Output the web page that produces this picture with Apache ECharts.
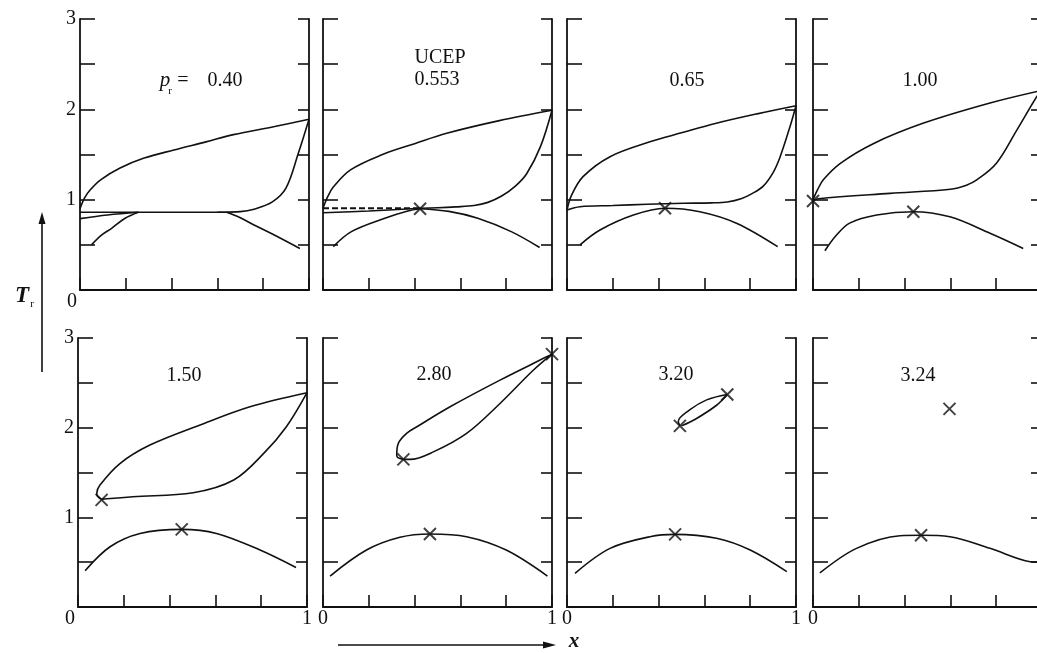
<!DOCTYPE html>
<html>
<head>
<meta charset="utf-8">
<script src="https://cdn.jsdelivr.net/npm/echarts@6/dist/echarts.min.js"></script>
<style>
  html, body { margin: 0; padding: 0; background: #fff; }
  #chart { width: 1037px; height: 653px; }
</style>
</head>
<body>
<div id="chart"></div>
<script>
// Reduced temperature T_r against mole fraction x at eight reduced pressures.
// Each curve is a list of [x, T_r] pairs.

// p_r = 0.40
const p040Vapor  = [[0,0.90],[0.02,1.02],[0.045,1.11],[0.09,1.22],[0.175,1.35],[0.28,1.46],[0.41,1.55],[0.55,1.64],[0.67,1.72],[0.85,1.81],[1,1.89]];
const p040Liquid = [[0,0.86],[0.2,0.86],[0.4,0.86],[0.6,0.862],[0.70,0.868],[0.76,0.895],[0.84,0.975],[0.90,1.13],[0.953,1.51],[1,1.89]];
const p040Tie    = [[0,0.79],[0.12,0.83],[0.255,0.86]];
const p040LLa    = [[0.05,0.50],[0.095,0.61],[0.138,0.683],[0.197,0.794],[0.255,0.86]];
const p040LLb    = [[0.64,0.86],[0.70,0.80],[0.76,0.72],[0.84,0.62],[0.96,0.46]];

// UCEP, p_r = 0.553
const p0553Vapor  = [[0,0.905],[0.02,1.03],[0.045,1.14],[0.12,1.33],[0.26,1.50],[0.40,1.62],[0.54,1.735],[0.77,1.875],[1,1.99]];
const p0553Liquid = [[0.424,0.905],[0.50,0.91],[0.58,0.92],[0.66,0.935],[0.72,0.97],[0.78,1.04],[0.84,1.15],[0.89,1.29],[0.95,1.59],[1,1.99]];
const p0553Tie    = [[0,0.856],[0.2,0.875],[0.424,0.905]];
const p0553Dash   = [[0,0.905],[0.424,0.905]];
const p0553LLa    = [[0.045,0.48],[0.124,0.646],[0.27,0.794],[0.37,0.875],[0.424,0.90]];
const p0553LLb    = [[0.424,0.90],[0.55,0.87],[0.676,0.794],[0.822,0.646],[0.946,0.47]];
const p0553Cross  = [[0.424,0.90]];

// p_r = 0.65
const p065Vapor  = [[0,0.886],[0.02,1.05],[0.07,1.255],[0.188,1.476],[0.362,1.64],[0.50,1.74],[0.652,1.846],[0.83,1.95],[1,2.04]];
const p065Liquid = [[0,0.886],[0.057,0.922],[0.2,0.935],[0.35,0.95],[0.508,0.96],[0.63,0.965],[0.70,0.975],[0.76,1.01],[0.81,1.07],[0.857,1.15],[0.90,1.30],[0.93,1.47],[0.974,1.81],[1,2.04]];
const p065LL     = [[0.057,0.50],[0.144,0.664],[0.29,0.83],[0.428,0.905],[0.58,0.867],[0.74,0.74],[0.92,0.48]];
const p065Cross  = [[0.428,0.905]];

// p_r = 1.00
const p100Vapor  = [[0,1.0],[0.02,1.11],[0.045,1.22],[0.118,1.40],[0.263,1.62],[0.48,1.845],[0.773,2.07],[1,2.21]];
const p100Liquid = [[0,0.985],[0.023,1.01],[0.336,1.07],[0.60,1.115],[0.67,1.16],[0.715,1.218],[0.80,1.40],[0.89,1.77],[0.977,2.14],[1,2.21]];
const p100LL     = [[0.052,0.435],[0.10,0.60],[0.16,0.74],[0.278,0.83],[0.438,0.867],[0.598,0.81],[0.773,0.628],[0.918,0.46]];
const p100Cross  = [[0,0.985],[0.438,0.867]];

// p_r = 1.50
const p150Vapor  = [[0.103,1.20],[0.085,1.235],[0.082,1.268],[0.096,1.36],[0.183,1.60],[0.314,1.806],[0.533,2.03],[0.751,2.233],[1,2.39]];
const p150Liquid = [[1,2.39],[0.91,2.01],[0.81,1.71],[0.68,1.416],[0.503,1.274],[0.24,1.23],[0.126,1.207],[0.103,1.20]];
const p150LL     = [[0.031,0.405],[0.14,0.672],[0.271,0.82],[0.453,0.866],[0.605,0.82],[0.795,0.635],[0.952,0.44]];
const p150Cross  = [[0.103,1.195],[0.453,0.866]];

// p_r = 2.80
const p280Upper = [[0.351,1.646],[0.327,1.665],[0.322,1.695],[0.329,1.825],[0.365,1.936],[0.41,2.01],[0.555,2.233],[0.773,2.53],[0.977,2.79],[1,2.82]];
const p280Lower = [[1,2.82],[0.918,2.64],[0.773,2.27],[0.627,1.936],[0.482,1.73],[0.38,1.646],[0.351,1.646]];
const p280LL    = [[0.031,0.345],[0.19,0.635],[0.336,0.777],[0.467,0.814],[0.627,0.784],[0.80,0.635],[0.98,0.345]];
const p280Cross = [[1,2.82],[0.351,1.646],[0.467,0.814]];

// p_r = 3.20
const p320Upper = [[0.493,2.02],[0.486,2.07],[0.537,2.20],[0.61,2.31],[0.70,2.37]];
const p320Lower = [[0.70,2.37],[0.653,2.25],[0.564,2.10],[0.50,2.02]];
const p320LL    = [[0.035,0.376],[0.188,0.654],[0.362,0.784],[0.472,0.81],[0.653,0.766],[0.80,0.635],[0.96,0.394]];
const p320Cross = [[0.70,2.37],[0.493,2.02],[0.472,0.81]];

// p_r = 3.24
const p324LL    = [[0.03,0.38],[0.19,0.654],[0.38,0.795],[0.472,0.80],[0.598,0.784],[0.773,0.654],[0.948,0.505],[0.98,0.50]];
const p324Cross = [[0.596,2.21],[0.472,0.80]];

// panel captions (pressure values)
const captions = ['0.40', '0.553', '0.65', '1.00', '1.50', '2.80', '3.20', '3.24'];
const yTickLabels = [1, 2, 3];
const xTickLabels = [0, 1];

const INK = '#111';
const SERIF = '"Liberation Serif", "Times New Roman", serif';

const panels = [
  { left: 80,  top: 19,  h: 271, yLab: true,  xLab: 'origin', lines: [p040Vapor, p040Liquid, p040Tie, p040LLa, p040LLb], dashed: [], cross: [] },
  { left: 323, top: 19,  h: 271, lines: [p0553Vapor, p0553Liquid, p0553Tie, p0553LLa, p0553LLb], dashed: [p0553Dash], cross: p0553Cross },
  { left: 567, top: 19,  h: 271, lines: [p065Vapor, p065Liquid, p065LL], dashed: [], cross: p065Cross },
  { left: 813, top: 19,  h: 271, lines: [p100Vapor, p100Liquid, p100LL], dashed: [], cross: p100Cross },
  { left: 78,  top: 338, h: 269, yLab: true, xLab: 'both-shift', lines: [p150Vapor, p150Liquid, p150LL], dashed: [], cross: p150Cross },
  { left: 323, top: 338, h: 269, xLab: 'both', lines: [p280Upper, p280Lower, p280LL], dashed: [], cross: p280Cross },
  { left: 567, top: 338, h: 269, xLab: 'both', lines: [p320Upper, p320Lower, p320LL], dashed: [], cross: p320Cross },
  { left: 813, top: 338, h: 269, xLab: 'both', lines: [p324LL], dashed: [], cross: p324Cross }
];

const grid = [], xAxis = [], yAxis = [], series = [];

const axisLine = { show: true, onZero: false, lineStyle: { color: INK, width: 1.8 } };
const tickStyle = { color: INK, width: 1.6 };

panels.forEach((p, i) => {
  grid.push({ left: p.left, top: p.top, width: 229, height: p.h, containLabel: false, outerBoundsMode: 'none' });

  xAxis.push({
    gridIndex: i, type: 'value', min: 0, max: 1, interval: 0.2,
    axisLine: axisLine,
    axisTick: { show: true, inside: true, length: 12, lineStyle: tickStyle },
    splitLine: { show: false },
    axisLabel: {
      show: !!p.xLab, margin: 2, color: INK, fontFamily: SERIF, fontSize: 20,
      showMinLabel: true, showMaxLabel: true, hideOverlap: false,
      formatter: (v) => {
        const isMin = Math.abs(v - xTickLabels[0]) < 1e-9;
        const isMax = Math.abs(v - xTickLabels[1]) < 1e-9;
        if (p.xLab === 'origin') return isMin ? '{o|' + xTickLabels[0] + '}' : '';
        if (p.xLab === 'both-shift') return isMin ? '{o|' + xTickLabels[0] + '}' : (isMax ? String(xTickLabels[1]) : '');
        return isMin ? String(xTickLabels[0]) : (isMax ? String(xTickLabels[1]) : '');
      },
      rich: { o: { fontFamily: SERIF, fontSize: 20, color: INK, padding: [0, 16, 0, 0] } }
    }
  });

  yAxis.push({
    gridIndex: i, type: 'value', min: 0, max: 3, interval: 0.5, position: 'left',
    axisLine: axisLine,
    axisTick: { show: true, inside: true, length: 15, lineStyle: tickStyle },
    splitLine: { show: false },
    axisLabel: {
      show: !!p.yLab, margin: 4, color: INK, fontFamily: SERIF, fontSize: 20,
      formatter: (v) => yTickLabels.indexOf(v) >= 0 ? String(v) : ''
    }
  });
  yAxis.push({
    gridIndex: i, type: 'value', min: 0, max: 3, interval: 0.5, position: 'right',
    axisLine: axisLine,
    axisTick: { show: true, inside: true, length: 11, lineStyle: tickStyle },
    splitLine: { show: false },
    axisLabel: { show: false }
  });

  p.lines.forEach((d) => series.push({
    type: 'line', xAxisIndex: i, yAxisIndex: 2 * i, data: d,
    smooth: 0.35, symbol: 'none', clip: false, silent: true,
    lineStyle: { color: INK, width: 1.6 }
  }));
  p.dashed.forEach((d) => series.push({
    type: 'line', xAxisIndex: i, yAxisIndex: 2 * i, data: d,
    symbol: 'none', clip: false, silent: true,
    lineStyle: { color: INK, width: 2, type: [6, 3] }
  }));
  if (p.cross.length) series.push({
    type: 'scatter', xAxisIndex: i, yAxisIndex: 2 * i, data: p.cross,
    symbol: 'path://M0,0L10,10M10,0L0,10', symbolSize: 12, clip: false, silent: true,
    itemStyle: { color: 'rgba(0,0,0,0)', borderColor: INK, borderWidth: 2 }
  });
});

// panel captions and axis names
const captionPos = [null, [437, 80], [687, 81], [920, 81], [184, 376], [434, 375], [676, 375], [918, 376]];
const graphic = [];
const txt = (text, x, y, size, extra) => Object.assign({
  type: 'text', x: x, y: y, silent: true,
  style: Object.assign({ text: text, font: size + 'px ' + SERIF, fill: INK, align: 'center', verticalAlign: 'middle' }, extra || {})
});

// first panel caption: p_r = 0.40
graphic.push(txt('p', 165, 80, 21, { font: 'italic 21px ' + SERIF }));
graphic.push(txt('r', 170, 91, 11));
graphic.push(txt('=', 183, 81, 20));
graphic.push(txt(captions[0], 225, 81, 20));
graphic.push(txt('UCEP', 440, 58, 20));
for (let k = 1; k < captions.length; k++) {
  graphic.push(txt(captions[k], captionPos[k][0], captionPos[k][1], 20));
}

// vertical axis name with arrow
graphic.push(txt('T', 22, 296, 23, { font: 'italic bold 23px ' + SERIF }));
graphic.push(txt('r', 32, 304, 11));
graphic.push({ type: 'line', silent: true, shape: { x1: 42, y1: 372, x2: 42, y2: 222 }, style: { stroke: INK, lineWidth: 1.6 } });
graphic.push({ type: 'polygon', silent: true, shape: { points: [[42, 212], [38.5, 224], [45.5, 224]] }, style: { fill: INK } });

// horizontal axis name with arrow
graphic.push({ type: 'line', silent: true, shape: { x1: 338, y1: 645, x2: 545, y2: 645 }, style: { stroke: INK, lineWidth: 1.4 } });
graphic.push({ type: 'polygon', silent: true, shape: { points: [[556, 645], [543, 641.5], [543, 648.5]] }, style: { fill: INK } });
graphic.push(txt('x', 574, 642, 21, { font: 'italic bold 21px ' + SERIF }));

const chart = echarts.init(document.getElementById('chart'), null, { renderer: 'canvas' });
chart.setOption({
  animation: false,
  backgroundColor: '#fff',
  grid: grid, xAxis: xAxis, yAxis: yAxis, series: series, graphic: graphic
});
</script>
</body>
</html>
